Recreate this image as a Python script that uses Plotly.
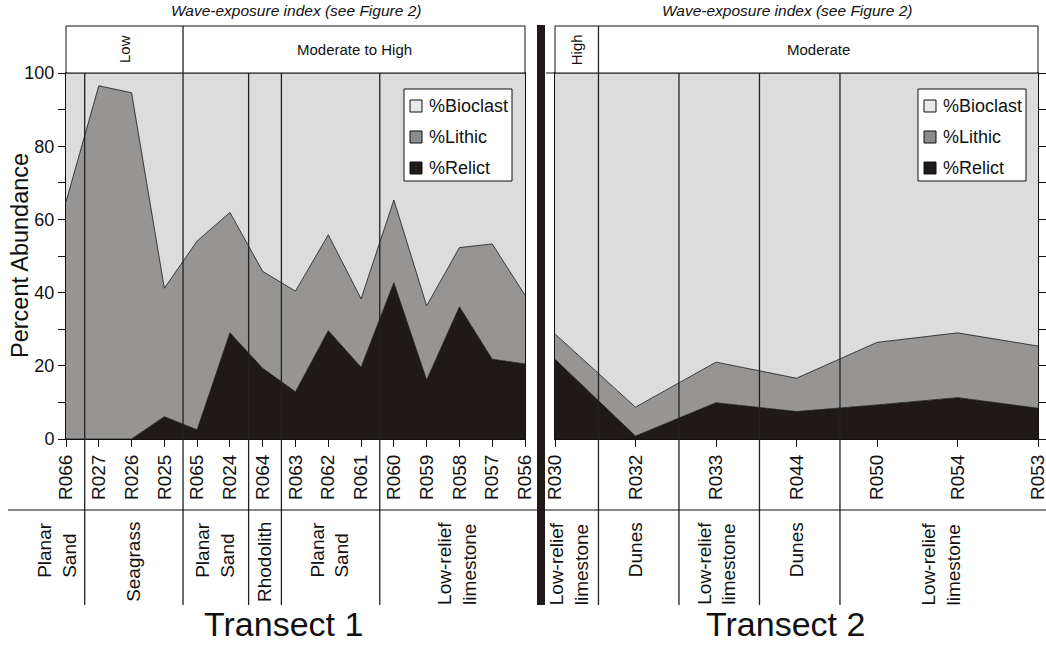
import plotly.graph_objects as go

W, H = 1046, 645
FONT = "Liberation Sans, Arial, sans-serif"

# ---- Transect 1 ----
t1_samples = ["R066", "R027", "R026", "R025", "R065", "R024", "R064", "R063",
              "R062", "R061", "R060", "R059", "R058", "R057", "R056"]
t1_relict = [0, 0, 0, 6.1, 2.5, 29.0, 19.3, 12.9, 29.6, 19.6, 42.7, 16.1, 36.1, 21.8, 20.5]
t1_lithic = [64.8, 96.5, 94.6, 35.1, 51.6, 32.9, 26.5, 27.5, 26.2, 18.7, 22.6, 20.3, 16.2, 31.5, 18.8]
t1_bioclast = [35.2, 3.5, 5.4, 58.8, 45.9, 38.1, 54.2, 59.6, 44.2, 61.7, 34.7, 63.6, 47.7, 46.7, 60.7]
t1_habitats = ["Planar<br>Sand", "Seagrass", "Planar<br>Sand", "Rhodolith", "Planar<br>Sand",
               "Low-relief<br>limestone"]
t1_habitat_sizes = [1, 3, 2, 1, 3, 5]
t1_exposure = ["Low", "Moderate to High"]
t1_exposure_sizes = [4, 11]

# ---- Transect 2 ----
t2_samples = ["R030", "R032", "R033", "R044", "R050", "R054", "R053"]
t2_relict = [21.8, 0.8, 9.9, 7.5, 9.3, 11.3, 8.4]
t2_lithic = [6.9, 7.9, 11.1, 9.1, 17.1, 17.7, 17.0]
t2_bioclast = [71.3, 91.3, 79.0, 83.4, 73.6, 71.0, 74.6]
t2_habitats = ["Low-relief<br>limestone", "Dunes", "Low-relief<br>limestone", "Dunes",
               "Low-relief<br>limestone"]
t2_habitat_sizes = [1, 1, 1, 1, 3]
t2_exposure = ["High", "Moderate"]
t2_exposure_sizes = [1, 6]

components = ["%Relict", "%Lithic", "%Bioclast"]
fills = {"%Relict": "#1f1a17", "%Lithic": "#969594", "%Bioclast": "#dcdcdc"}
swatch = {"%Relict": "#1f1a17", "%Lithic": "#8c8c8c", "%Bioclast": "#e8e8e8"}
INK = "#111111"


def px_x(p):
    return p / W


def px_y(p):
    return 1 - p / H


# pixel layout of the two panels
PLOT_TOP, PLOT_BOT = 73, 439
HDR_TOP = 26
RULE_Y = 510
LOW_END = 605
P1 = (66, 525)
P2 = (555, 1038)

fig = go.Figure()
shapes = []
annots = []


def add_panel(samples, series, xa, ya):
    for name, vals in zip(components, series):
        fig.add_trace(go.Scatter(
            x=samples, y=vals, name=name, stackgroup="s" + xa,
            mode="lines", line=dict(color=INK, width=0.8),
            fillcolor=fills[name], showlegend=False,
            xaxis=xa, yaxis=ya, hoverinfo="skip"))


def add_key(left, top):
    # boxed key: swatch + label for each component, top entry = %Bioclast
    shapes.append(dict(type="rect", xref="paper", yref="paper",
                       x0=px_x(left), x1=px_x(left + 108), y0=px_y(top + 92), y1=px_y(top),
                       line=dict(color=INK, width=1), fillcolor="white", layer="above"))
    for i, name in enumerate(reversed(components)):
        cy = top + 17 + i * 31
        shapes.append(dict(type="rect", xref="paper", yref="paper",
                           x0=px_x(left + 6), x1=px_x(left + 18),
                           y0=px_y(cy + 6), y1=px_y(cy - 6),
                           line=dict(color=INK, width=1), fillcolor=swatch[name], layer="above"))
        annots.append(dict(text=name, x=px_x(left + 23), y=px_y(cy), xref="paper", yref="paper",
                           showarrow=False, xanchor="left", yanchor="middle",
                           font=dict(size=18, color=INK)))


add_panel(t1_samples, [t1_relict, t1_lithic, t1_bioclast], "x", "y")
add_panel(t2_samples, [t2_relict, t2_lithic, t2_bioclast], "x2", "y2")

LINE = dict(color="#222222", width=1.3)


def boundaries(sizes, offset):
    out, k = [], 0
    for s in sizes[:-1]:
        k += s
        out.append(k - 0.5 + offset)
    return out


def panel_decor(xref, pxr, samples, habitats, hsizes, exposure, esizes, offset,
                hab_left_px, hab_shift, title_shift):
    n = len(samples)
    x0p, x1p = pxr

    def to_px(v):
        return x0p + (x1p - x0p) * v / (n - 1)

    # exposure header box
    shapes.append(dict(type="rect", xref="paper", yref="paper",
                       x0=px_x(x0p), x1=px_x(x1p), y0=px_y(PLOT_TOP), y1=px_y(HDR_TOP),
                       line=dict(color=INK, width=1), fillcolor="white", layer="above"))
    eb = boundaries(esizes, offset)
    for b in eb:
        shapes.append(dict(type="line", xref=xref, yref="paper", x0=b, x1=b,
                           y0=px_y(LOW_END), y1=px_y(HDR_TOP), line=LINE))
    edges = [x0p] + [to_px(b) for b in eb] + [x1p]
    for lab, size, a, b in zip(exposure, esizes, edges[:-1], edges[1:]):
        rot = -90 if size < 5 else 0
        annots.append(dict(text=lab, x=px_x((a + b) / 2), y=px_y((HDR_TOP + PLOT_TOP) / 2),
                           xref="paper", yref="paper", showarrow=False, textangle=rot,
                           font=dict(size=15, color=INK),
                           xanchor="center", yanchor="middle"))
    annots.append(dict(text="<i>Wave-exposure index (see Figure 2)</i>",
                       x=px_x((x0p + x1p) / 2 + title_shift), y=px_y(11),
                       xref="paper", yref="paper", showarrow=False,
                       font=dict(size=15.5, color=INK), xanchor="center", yanchor="middle"))

    # habitat separators and labels
    hb = boundaries(hsizes, offset)
    for b in hb:
        if b in eb:
            continue
        shapes.append(dict(type="line", xref=xref, yref="paper", x0=b, x1=b,
                           y0=px_y(LOW_END), y1=px_y(PLOT_TOP), line=LINE))
    hedges = [hab_left_px] + [to_px(b) for b in hb] + [x1p + 10]
    for lab, a, b in zip(habitats, hedges[:-1], hedges[1:]):
        annots.append(dict(text=lab, x=px_x((a + b) / 2 + hab_shift), y=px_y(RULE_Y + 10),
                           xref="paper", yref="paper", showarrow=False, textangle=-90,
                           align="left", font=dict(size=19, color=INK),
                           xanchor="center", yanchor="top"))


panel_decor("x", P1, t1_samples, t1_habitats, t1_habitat_sizes, t1_exposure,
            t1_exposure_sizes, 0.07, 31, -1, 0)
panel_decor("x2", P2, t2_samples, t2_habitats, t2_habitat_sizes, t2_exposure,
            t2_exposure_sizes, 0.04, 545, -3, -10)

add_key(404, 89)
add_key(918, 89)

# horizontal rules under the sample labels
shapes.append(dict(type="line", xref="paper", yref="paper", x0=px_x(8), x1=px_x(537),
                   y0=px_y(RULE_Y), y1=px_y(RULE_Y), line=dict(color=INK, width=1)))
shapes.append(dict(type="line", xref="paper", yref="paper", x0=px_x(545), x1=1,
                   y0=px_y(RULE_Y), y1=px_y(RULE_Y), line=dict(color=INK, width=1)))
# short 100 tick on the left of the second panel
shapes.append(dict(type="line", xref="paper", yref="paper", x0=px_x(546), x1=px_x(555),
                   y0=px_y(PLOT_TOP), y1=px_y(PLOT_TOP), line=dict(color=INK, width=1)))
# thick divider between transects
shapes.append(dict(type="rect", xref="paper", yref="paper", x0=px_x(537), x1=px_x(545),
                   y0=px_y(LOW_END), y1=px_y(25), fillcolor="#1f1a17", line=dict(width=0)))

annots.append(dict(text="Percent Abundance", x=px_x(20), y=px_y((PLOT_TOP + PLOT_BOT) / 2),
                   xref="paper", yref="paper", showarrow=False, textangle=-90,
                   font=dict(size=23.5, color=INK), xanchor="center", yanchor="middle"))
annots.append(dict(text="Transect 1", x=px_x(283), y=px_y(624), xref="paper", yref="paper",
                   showarrow=False, font=dict(size=34, color=INK),
                   xanchor="center", yanchor="middle"))
annots.append(dict(text="Transect 2", x=px_x(785), y=px_y(624), xref="paper", yref="paper",
                   showarrow=False, font=dict(size=34, color=INK),
                   xanchor="center", yanchor="middle"))

xcommon = dict(type="category", showgrid=False, ticks="outside", ticklen=7, tickwidth=1,
               tickcolor=INK, tickangle=-90, tickfont=dict(size=19, color=INK),
               showline=True, linecolor=INK, linewidth=1, mirror=True, zeroline=False,
               automargin=False)
ycommon = dict(range=[0, 100], showgrid=False, zeroline=False, showline=True,
               linecolor=INK, linewidth=1, mirror=True, ticks="outside",
               tickcolor=INK, domain=[px_y(PLOT_BOT), px_y(PLOT_TOP)], automargin=False)

fig.update_layout(
    width=W, height=H, margin=dict(l=0, r=0, t=0, b=0, autoexpand=False),
    paper_bgcolor="white", plot_bgcolor="white",
    font=dict(family=FONT, color=INK),
    showlegend=False,
    xaxis=dict(xcommon, domain=[px_x(P1[0]), px_x(P1[1])], range=[0, len(t1_samples) - 1],
               anchor="y"),
    xaxis2=dict(xcommon, domain=[px_x(P2[0]), px_x(P2[1])], range=[0, len(t2_samples) - 1],
                anchor="y2"),
    yaxis=dict(ycommon, anchor="x", dtick=20, ticklen=7,
               tickfont=dict(size=18, color=INK),
               minor=dict(dtick=10, ticks="outside", ticklen=7, tickcolor=INK)),
    yaxis2=dict(ycommon, anchor="x2", side="right", dtick=10, ticklen=8,
                showticklabels=False),
    shapes=shapes, annotations=annots,
)

fig.write_html("out.html")
